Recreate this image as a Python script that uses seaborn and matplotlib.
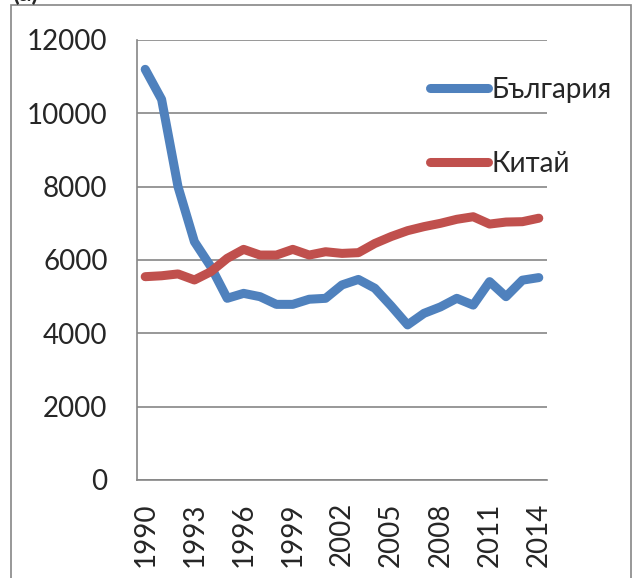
import matplotlib
matplotlib.use("Agg")
import matplotlib.pyplot as plt
from matplotlib.patches import Rectangle
import numpy as np
import pandas as pd
import seaborn as sns

years = list(range(1990, 2015))
bulgaria = [11200, 10380, 8000, 6500, 5820, 4955, 5090, 5000, 4790, 4790,
            4930, 4955, 5320, 5470, 5230, 4745, 4230, 4545, 4720, 4955,
            4770, 5410, 5000, 5450, 5520]
china = [5545, 5570, 5620, 5455, 5680, 6045, 6290, 6135, 6135, 6290,
         6135, 6225, 6180, 6200, 6450, 6640, 6800, 6910, 7000, 7110,
         7180, 6980, 7035, 7045, 7140]
series_names = ["България", "Китай"]
y_ticks = [0, 2000, 4000, 6000, 8000, 10000, 12000]
x_label_years = [1990, 1993, 1996, 1999, 2002, 2005, 2008, 2011, 2014]

df = pd.DataFrame({
    "year": years * 2,
    "value": bulgaria + china,
    "country": [series_names[0]] * len(years) + [series_names[1]] * len(years),
})

sns.set_style("white")
plt.rcParams["font.family"] = ["Lato", "DejaVu Sans"]

W, H = 635, 578
FS = 20
fig = plt.figure(figsize=(W / 100, H / 100), dpi=100)
ax = fig.add_axes([137 / W, 1 - 480 / H, (547 - 137) / W, (480 - 40) / H])

grid_c = "#868686"
palette = {series_names[0]: "#4F81BD", series_names[1]: "#C0504D"}

sns.lineplot(data=df, x="year", y="value", hue="country", palette=palette,
             linewidth=6.5, ax=ax, legend=True, solid_capstyle="round")

ax.set_xlim(1989.5, 2014.5)
ax.set_ylim(0, 12000)
ax.set_xlabel("")
ax.set_ylabel("")

ax.set_yticks(y_ticks)
ax.set_yticklabels([str(v) for v in y_ticks])
ax.yaxis.grid(True, color=grid_c, linewidth=1.2)
ax.set_axisbelow(True)

# category boundaries carry the tick marks, labels sit at category centres
ax.set_xticks(np.arange(1989.5, 2015.0, 1.0))
ax.set_xticklabels([])
ax.set_xticks(x_label_years, minor=True)
ax.set_xticklabels([str(y) for y in x_label_years], minor=True, rotation=90)
ax.tick_params(axis="x", which="major", length=7.2, width=1.1, color=grid_c,
               direction="out")
ax.tick_params(axis="x", which="minor", length=0, pad=16, labelsize=FS)
ax.tick_params(axis="y", length=7.2, width=1.1, color=grid_c, direction="out",
               pad=14, labelsize=FS)

for s in ["top", "right"]:
    ax.spines[s].set_visible(False)
for s in ["left", "bottom"]:
    ax.spines[s].set_color(grid_c)
    ax.spines[s].set_linewidth(1.2)

leg = ax.legend(loc="upper left", bbox_to_anchor=(430 / W, 1 - 77 / H),
                bbox_transform=fig.transFigure, frameon=False, fontsize=FS,
                handlelength=2.1, handletextpad=0.1, labelspacing=1.72,
                borderaxespad=0, borderpad=0)
for line in leg.get_lines():
    line.set_linewidth(6.5)
    line.set_solid_capstyle("round")

# outer chart frame
fig.patches.append(Rectangle((11 / W, -0.05), (631 - 11) / W, 1.05 - 5 / H,
                             transform=fig.transFigure, fill=False,
                             edgecolor=grid_c, linewidth=1.2))
fig.text(12 / W, 1 - 1 / H, "(а)", fontsize=18, fontweight="bold",
         va="baseline", ha="left")

fig.savefig("out.png", dpi=100)
